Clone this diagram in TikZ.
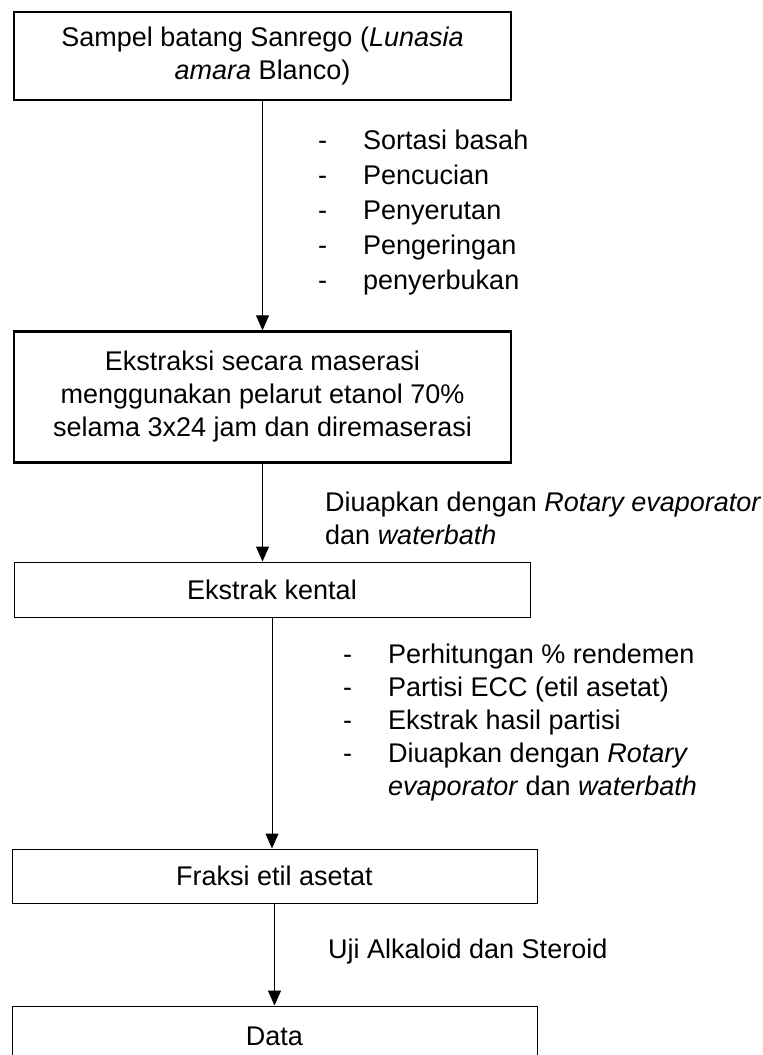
\documentclass[tikz,border=0pt]{standalone}
\usepackage{fontspec}
\setmainfont{Liberation Sans}
\usetikzlibrary{arrows.meta}
\tikzstyle{block} = [rectangle, draw, line width=2.4pt, align=center, inner sep=0pt]
\tikzstyle{thinblock} = [rectangle, draw, line width=1pt, align=center, inner sep=0pt]
\tikzstyle{line} = [draw, line width=1pt, -{Triangle[length=15pt,width=13pt]}]
\tikzstyle{note} = [align=left, anchor=west, inner sep=0pt]
\newcommand{\dashitem}[1]{\makebox[#1][l]{-}}

\begin{document}
\begin{tikzpicture}[x=1pt, y=-1pt, font=\fontsize{27}{33}\selectfont]
    \clip (0,0) rectangle (763,1055);
    \node [block, minimum width=497pt, minimum height=88pt] (sampel) at (262.5,56)
        {Sampel batang Sanrego (\textit{Lunasia}\\\textit{amara} Blanco)};
    \node [block, minimum width=497pt, minimum height=131pt] (maserasi) at (262.5,397)
        {Ekstraksi secara maserasi\\menggunakan pelarut etanol 70\%\\selama 3x24 jam dan diremaserasi};
    \node [thinblock, minimum width=516pt, minimum height=55pt] (kental) at (272,589.5) {Ekstrak kental};
    \node [thinblock, minimum width=525pt, minimum height=54pt] (fraksi) at (274.5,876) {Fraksi etil asetat};
    \node [thinblock, minimum width=525pt, minimum height=60pt] (data) at (274.5,1036) {Data};

    % keterangan proses
    \node [note, font=\fontsize{27}{35}\selectfont] (persiapan) at (318,212.5)
        {\dashitem{45pt}Sortasi basah\\\dashitem{45pt}Pencucian\\\dashitem{45pt}Penyerutan\\
         \dashitem{45pt}Pengeringan\\\dashitem{45pt}penyerbukan};
    \node [note] (uapkan) at (325,518)
        {Diuapkan dengan \textit{Rotary evaporator}\\dan \textit{waterbath}};
    \node [note] (partisi) at (343,723)
        {\dashitem{45pt}Perhitungan \% rendemen\\\dashitem{45pt}Partisi ECC (etil asetat)\\
         \dashitem{45pt}Ekstrak hasil partisi\\\dashitem{45pt}Diuapkan dengan \textit{Rotary}\\
         \hspace*{45pt}\textit{evaporator} dan \textit{waterbath}};
    \node [note] (uji) at (328,952) {Uji Alkaloid dan Steroid};

    \path [line] (sampel.south) -- (sampel.south |- maserasi.north);
    \path [line] (maserasi.south) -- (maserasi.south |- kental.north);
    \path [line] (kental.south) -- (kental.south |- fraksi.north);
    \path [line] (fraksi.south) -- (fraksi.south |- data.north);
\end{tikzpicture}
\end{document}
